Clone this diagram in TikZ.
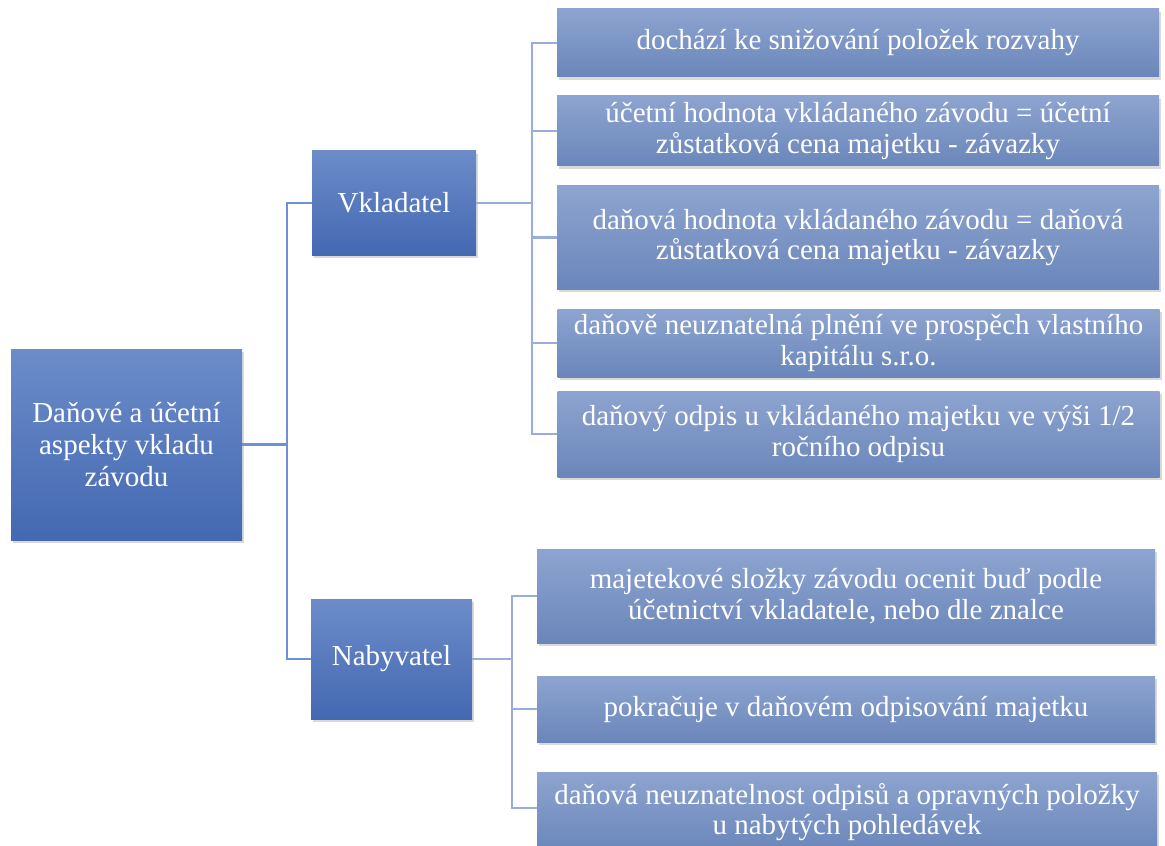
\documentclass[tikz,border=0pt]{standalone}
\usepackage{fontspec}
\setmainfont{Liberation Serif}
\usepackage{xcolor}
\usetikzlibrary{positioning,shadows}

\definecolor{maintop}{HTML}{6C8CC9}
\definecolor{mainbot}{HTML}{4468B2}
\definecolor{subtop}{HTML}{8EA4D0}
\definecolor{subbot}{HTML}{6A86BA}
\definecolor{linkdark}{HTML}{6F8FD6}
\definecolor{linklight}{HTML}{9AACDB}

\begin{document}
\begin{tikzpicture}[x=0.5pt,y=-0.5pt]

    % Styles
    \tikzset{
        mainbox/.style={rectangle, top color=maintop, bottom color=mainbot, draw=none,
            text=white, align=center, inner sep=2pt,
            font=\fontsize{14.5}{16}\selectfont,
            drop shadow={shadow xshift=1pt, shadow yshift=-1.5pt, opacity=0.25, fill=black!60}},
        subbox/.style={mainbox, top color=subtop, bottom color=subbot,
            minimum width=301pt, font=\fontsize{14.5}{15.3}\selectfont},
        link/.style={draw=linkdark, line width=1.1pt},
        sublink/.style={draw=linklight, line width=1.1pt}
    }

    \useasboundingbox (0,0) rectangle (1165,845);

    % Coordinates
    \coordinate (jr) at (287,444.5);   % junction after root
    \coordinate (jv) at (532,203);     % junction after Vkladatel
    \coordinate (jn) at (512,659);     % junction after Nabyvatel

    % Root and second level
    \node[mainbox, minimum width=115.5pt, minimum height=95.5pt]
        (root) at (126.5,444.5) {Daňové a účetní\\aspekty vkladu\\závodu};
    \node[mainbox, minimum width=82pt, minimum height=52pt] (vkl) at (394,203) {Vkladatel};
    \node[mainbox, minimum width=80.5pt, minimum height=60pt] (nab) at (391.5,659) {Nabyvatel};

    % Vkladatel items
    \node[subbox, minimum height=34pt] (v1) at (858,43) {dochází ke snižování položek rozvahy};
    \node[subbox, minimum height=35pt] (v2) at (858,131) {účetní hodnota vkládaného závodu = účetní\\zůstatková cena majetku - závazky};
    \node[subbox, minimum height=51.5pt] (v3) at (858,237.5) {daňová hodnota vkládaného závodu = daňová\\zůstatková cena majetku - závazky};
    \node[subbox, minimum height=34pt] (v4) at (858.5,343) {daňově neuznatelná plnění ve prospěch vlastního\\kapitálu s.r.o.};
    \node[subbox, minimum height=43pt] (v5) at (858.5,434) {daňový odpis u vkládaného majetku ve výši 1/2\\ročního odpisu};

    % Nabyvatel items
    \node[subbox, minimum width=309pt, minimum height=47pt] (n1) at (846,596) {majetekové složky závodu ocenit buď podle\\účetnictví vkladatele, nebo dle znalce};
    \node[subbox, minimum width=309pt, minimum height=33pt] (n2) at (846,709) {pokračuje v daňovém odpisování majetku};
    \node[subbox, minimum width=310pt, minimum height=40pt] (n3) at (847,812) {daňová neuznatelnost odpisů a opravných položky\\u nabytých pohledávek};

    % Connectors
    \draw[link] (root.east) -- (jr) |- (vkl.west);
    \draw[link] (jr) |- (nab.west);
    \draw[sublink] (vkl.east) -- (jv);
    \foreach \n in {v1,v2,v3,v4,v5}
        \draw[sublink] (jv) |- (\n.west);
    \draw[sublink] (nab.east) -- (jn);
    \draw[sublink] (jn) |- (n1.west);
    \draw[sublink] (jn) |- (n2.west);
    \draw[sublink] (jn) -- (jn |- 0,808) -- (n3.west |- 0,808);

\end{tikzpicture}
\end{document}
